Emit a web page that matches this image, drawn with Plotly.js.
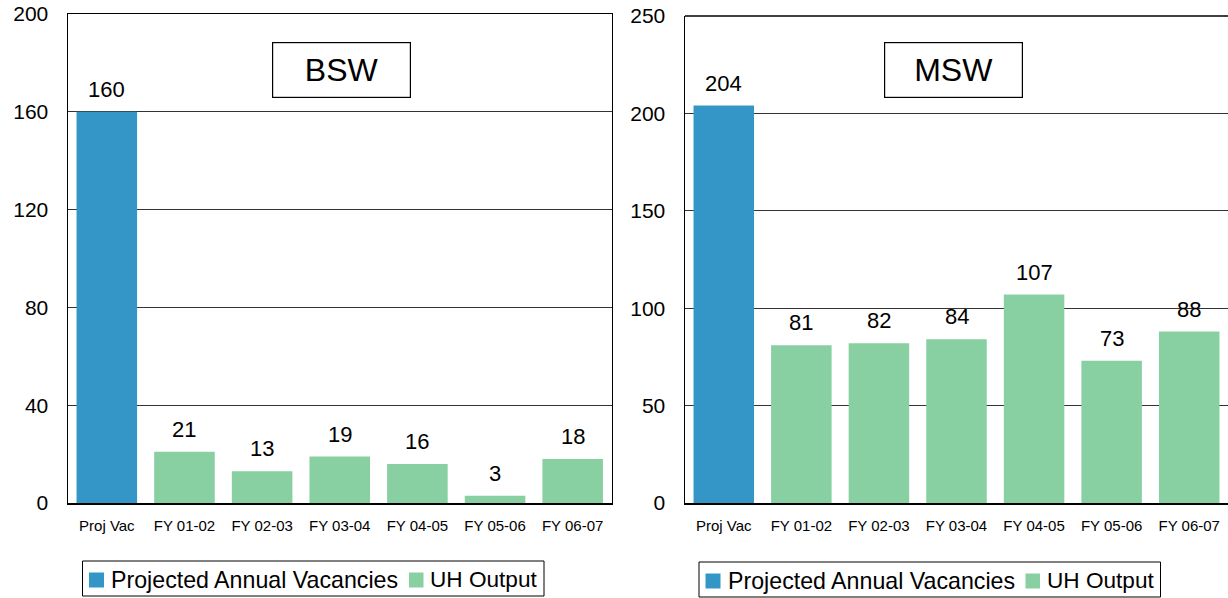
<!DOCTYPE html>
<html>
<head>
<meta charset="utf-8">
<script src="https://cdn.plot.ly/plotly-3.0.1.min.js"></script>
<style>html,body{margin:0;padding:0;background:#fff;}#chart{width:1228px;height:598px;}</style>
</head>
<body>
<div id="chart"></div>
<script>
// ---- data ----
const categories = ["Proj Vac", "FY 01-02", "FY 02-03", "FY 03-04", "FY 04-05", "FY 05-06", "FY 06-07"];
const projCategory = ["Proj Vac"];
const outputCategories = ["FY 01-02", "FY 02-03", "FY 03-04", "FY 04-05", "FY 05-06", "FY 06-07"];
const bswProjected = [160];
const bswOutput = [21, 13, 19, 16, 3, 18];
const mswProjected = [204];
const mswOutput = [81, 82, 84, 107, 73, 88];
const seriesNames = ["Projected Annual Vacancies", "UH Output"];
const panelTitles = ["BSW", "MSW"];

const FONT = "Liberation Sans, Arial, sans-serif";
const BLUE = "#3396c7";
const GREEN = "#88cfa2";
const W = 1228, H = 598;

const traces = [
  {type: "bar", x: projCategory, y: bswProjected, name: seriesNames[0], marker: {color: BLUE}, xaxis: "x", yaxis: "y", showlegend: false},
  {type: "bar", x: outputCategories, y: bswOutput, name: seriesNames[1], marker: {color: GREEN}, xaxis: "x", yaxis: "y", showlegend: false},
  {type: "bar", x: projCategory, y: mswProjected, name: seriesNames[0], marker: {color: BLUE}, xaxis: "x2", yaxis: "y2", showlegend: false},
  {type: "bar", x: outputCategories, y: mswOutput, name: seriesNames[1], marker: {color: GREEN}, xaxis: "x2", yaxis: "y2", showlegend: false}
];

function labels(xs, ys, xr, yr) {
  return xs.map((c, i) => ({
    x: c, y: ys[i], xref: xr, yref: yr, text: String(ys[i]), showarrow: false,
    yanchor: "bottom", yshift: 8, font: {family: FONT, size: 22, color: "#000"}
  }));
}

function titleBox(text, cx) {
  return {text: text, xref: "paper", yref: "paper", x: cx / W, y: (H - 70.5) / H, xanchor: "center", yanchor: "middle",
    showarrow: false, width: 135, height: 52, bordercolor: "#000", borderwidth: 1.2, borderpad: 1, bgcolor: "#fff",
    font: {family: FONT, size: 32, color: "#000"}};
}

// manual legends (px positions converted to paper coords)
const px = v => v / W, py = v => (H - v) / H;
const shapes = [
  {type: "line", xref: "x2 domain", yref: "y2 domain", x0: 0, x1: 1, y0: 1, y1: 1, line: {color: "#000", width: 1.5}}
];
const legendAnn = [];
function addLegend(dx, dy) {
  shapes.push({type: "rect", xref: "paper", yref: "paper", x0: px(82.5 + dx), x1: px(544 + dx), y0: py(561 + dy), y1: py(596 + dy),
    line: {color: "#000", width: 1}, fillcolor: "#fff", layer: "below"});
  shapes.push({type: "rect", xref: "paper", yref: "paper", x0: px(89 + dx), x1: px(104 + dx), y0: py(572.5 + dy), y1: py(587.5 + dy),
    line: {width: 0}, fillcolor: BLUE});
  shapes.push({type: "rect", xref: "paper", yref: "paper", x0: px(409 + dx), x1: px(423.5 + dx), y0: py(572.5 + dy), y1: py(587.5 + dy),
    line: {width: 0}, fillcolor: GREEN});
  legendAnn.push({text: seriesNames[0], xref: "paper", yref: "paper", x: px(109 + dx), y: py(579.5 + dy), xanchor: "left", yanchor: "middle",
    showarrow: false, font: {family: FONT, size: 23.2, color: "#000"}});
  legendAnn.push({text: seriesNames[1], xref: "paper", yref: "paper", x: px(428 + dx), y: py(579.5 + dy), xanchor: "left", yanchor: "middle",
    showarrow: false, font: {family: FONT, size: 22.6, color: "#000"}});
}
addLegend(0, 0);
addLegend(616.5, 1);

const annotations = [].concat(
  labels(projCategory, bswProjected, "x", "y"),
  labels(outputCategories, bswOutput, "x", "y"),
  labels(projCategory, mswProjected, "x2", "y2"),
  labels(outputCategories, mswOutput, "x2", "y2"),
  [titleBox(panelTitles[0], 341.2), titleBox(panelTitles[1], 953)],
  legendAnn
);

const xCommon = {
  type: "category", categoryorder: "array", categoryarray: categories,
  showline: true, linecolor: "#000", linewidth: 1.5,
  showgrid: false, ticks: "", ticklabelstandoff: 8, automargin: false,
  tickfont: {family: FONT, size: 15, color: "#000"}, fixedrange: true
};
const yCommon = {
  showline: true, linecolor: "#000", linewidth: 1.5,
  showgrid: true, gridcolor: "#333", gridwidth: 1, zeroline: false,
  ticks: "", ticklabelstandoff: 14, automargin: false,
  tickfont: {family: FONT, size: 21, color: "#000"}, fixedrange: true
};

const layout = {
  width: W, height: H,
  margin: {l: 0, r: 0, t: 0, b: 0, autoexpand: false},
  paper_bgcolor: "#fff", plot_bgcolor: "#fff",
  barmode: "overlay", bargap: 0.22,
  font: {family: FONT, color: "#000"},
  showlegend: false,
  xaxis: Object.assign({}, xCommon, {domain: [68 / W, 611.5 / W], anchor: "y", mirror: true}),
  yaxis: Object.assign({}, yCommon, {domain: [95 / H, 584 / H], range: [0, 200], dtick: 40, anchor: "x", mirror: true}),
  xaxis2: Object.assign({}, xCommon, {domain: [685 / W, 1], anchor: "y2", mirror: false}),
  yaxis2: Object.assign({}, yCommon, {domain: [95 / H, 582 / H], range: [0, 250], dtick: 50, anchor: "x2", mirror: false}),
  annotations: annotations,
  shapes: shapes
};

Plotly.newPlot("chart", traces, layout, {displayModeBar: false, staticPlot: true});
</script>
</body>
</html>
